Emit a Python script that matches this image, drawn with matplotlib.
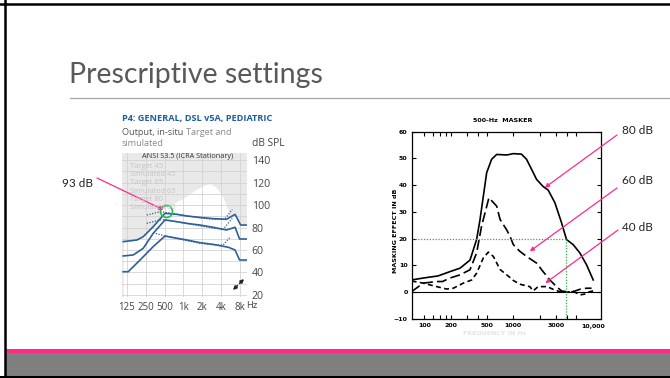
import numpy as np
import matplotlib
matplotlib.use('Agg')
import matplotlib.pyplot as plt
from matplotlib.patches import Rectangle
from matplotlib.lines import Line2D
from matplotlib.ticker import NullFormatter, FixedLocator

W, H = 670, 378
pink = '#ff2a8a'
blue = '#2f5f98'

# ---- left chart (fitting software, output in dB SPL) ----
top_f = [110, 181, 229, 330, 509, 783, 1135, 1838, 2980, 4850, 6660, 8170, 10200]
top_db = [67.4, 68.9, 71.8, 80.7, 92.6, 91.7, 90.2, 89.0, 87.9, 87.3, 91.7, 82.2, 82.2]
mid_f = [110, 159, 229, 330, 509, 783, 1135, 1838, 2980, 4850, 6660, 7850, 10200]
mid_db = [54.7, 55.6, 61.5, 74.8, 86.7, 85.2, 83.7, 82.2, 80.2, 77.8, 80.2, 69.8, 69.8]
low_f = [110, 132, 204, 330, 509, 1135, 1838, 2980, 5220, 6660, 7850, 10200]
low_db = [40.7, 40.7, 51.1, 63.0, 72.4, 68.9, 66.5, 65.0, 62.4, 60.0, 51.1, 51.1]

tgt_top_f = [261, 424, 509, 1135, 1838, 2980, 4550, 6000]
tgt_top_db = [91.1, 94.0, 93.5, 90.5, 88.5, 87.3, 87.3, 96.1]
tgt_mid_f = [261, 424, 509, 1135, 1838, 2980, 4300, 6000]
tgt_mid_db = [83.7, 86.7, 87.0, 83.5, 81.5, 79.5, 78.4, 88.1]
tgt_low_f = [330, 509, 1135, 1838, 2980, 4300, 5640]
tgt_low_db = [75.4, 72.5, 68.3, 66.0, 64.6, 64.4, 71.8]

blob_f = [430, 600, 1000, 1600, 2200, 2700, 3300, 4200, 5200]
blob_db = [96, 100, 106, 114, 118, 119, 116, 108, 95]

left_xticks = [125, 250, 500, 1000, 2000, 4000, 8000]
left_xlabels = ['125', '250', '500', '1k', '2k', '4k', '8k']
left_yticks = [20, 40, 60, 80, 100, 120, 140]
legend_items = ['Target 45', 'Simulated 45', 'Target 65', 'Simulated 65', 'Target 80', 'Simulated 80']

# ---- right chart (500-Hz masker) ----
m80_f = [72, 97, 143, 194, 252, 326, 387, 422, 502, 571, 650, 846, 1000, 1236, 1407, 1601,
         1823, 2163, 2461, 2928, 3479, 3958, 4703, 5588, 6639, 7894]
m80_db = [4.6, 5.3, 6.1, 7.7, 9.0, 12.0, 19.7, 27.0, 44.7, 49.7, 51.5, 51.3, 51.8, 51.6, 49.7, 46.0,
          42.2, 39.5, 38.2, 33.5, 26.0, 19.7, 17.8, 14.7, 10.3, 4.6]
m60_f = [72, 97, 138, 160, 194, 252, 326, 387, 440, 532, 650, 710, 839, 918, 1000, 1183, 1407,
         1823, 2163, 2571, 3059, 3477, 3958, 4703, 5588, 6639, 7567]
m60_db = [0.2, 3.4, 4.0, 4.0, 5.3, 6.5, 8.4, 14.7, 24.7, 35.3, 32.2, 27.2, 23.4, 20.9, 17.8, 15.3, 13.4,
          10.9, 7.7, 4.6, 2.1, 0.5, 0.2, 0.2, 1.1, 1.5, 1.5]
m40_f = [72, 97, 138, 178, 212, 274, 341, 387, 460, 524, 596, 710, 918, 1000, 1183, 1532, 1670,
         1900, 2400, 2800, 3330, 3958, 4700, 5588, 6300, 7200, 7900]
m40_db = [4.2, 3.4, 2.1, 1.2, 1.5, 3.4, 4.6, 7.1, 12.8, 15.0, 13.4, 8.5, 5.5, 4.4, 3.0, 2.1, 0.5,
          2.1, 2.1, 1.1, 0.2, 0.0, 0.4, -1.0, -0.7, 0.2, 0.5]
right_xticks = [100, 200, 500, 1000, 3000]
right_minor = [125, 150, 175, 300, 400, 2000, 4000, 5000]
right_yticks = [-10, 0, 10, 20, 30, 40, 50, 60]
cross_f, cross_db = 3900, 20


fig = plt.figure(figsize=(W / 100, H / 100), dpi=100)
fig.patch.set_facecolor('white')


def box(x0, y0, x1, y1):
    return fig.add_axes([x0 / W, 1 - y1 / H, (x1 - x0) / W, (y1 - y0) / H])


def ftxt(x, y, s, **kw):
    kw.setdefault('va', 'center')
    return fig.text(x / W, 1 - y / H, s, **kw)


# slide frame
fig.add_artist(Rectangle((5 / W, 1 - 353.3 / H), 1, 4 / H, transform=fig.transFigure, color=pink, lw=0))
fig.add_artist(Rectangle((5 / W, 1 - 375.5 / H), 1, 22.2 / H, transform=fig.transFigure, color='#7f7f7f', lw=0))
fig.add_artist(Line2D([0, 1], [1 - 3.8 / H] * 2, transform=fig.transFigure, color='black', lw=1.8))
fig.add_artist(Line2D([5.3 / W] * 2, [0, 1], transform=fig.transFigure, color='black', lw=1.8))
fig.add_artist(Line2D([0, 1], [1 - 376.8 / H] * 2, transform=fig.transFigure, color='black', lw=2.2))

ftxt(69, 75, 'Prescriptive settings', fontfamily='Lato', fontsize=20.5, color='#595959')
fig.add_artist(Line2D([70 / W, 1], [1 - 98 / H] * 2, transform=fig.transFigure, color='#a6a6a6', lw=0.9))

# ---------- left chart ----------
ftxt(121.5, 119, 'P4: GENERAL, DSL v5A, PEDIATRIC', fontfamily='Open Sans', fontweight='bold',
     fontsize=6.6, color='#1f5d9c')
t_out = ftxt(121.5, 132.5, 'Output, in-situ', fontfamily='Open Sans', fontsize=6.6, color='#555555')
ftxt(121.5, 143.5, 'simulated', fontfamily='Open Sans', fontsize=6.6, color='#8a8a8a')
ftxt(251.5, 143.5, 'dB SPL', fontfamily='Open Sans', fontsize=7.4, color='#444444')
rend = fig.canvas.get_renderer()
ext = t_out.get_window_extent(rend)
ftxt(ext.x1 + 3, 132.5, 'Target and', fontfamily='Open Sans', fontsize=6.6, color='#8a8a8a')

axL = box(121.7, 153.3, 246.7, 297)
axL.set_xscale('log', base=2)
axL.set_xlim(104, 10200)
axL.set_ylim(18.2, 146)
axL.set_facecolor('#e9e9e9')
axL.fill_between(top_f, 0, top_db, color='white', lw=0, zorder=0.5)
axL.fill_between(blob_f, 0, blob_db, color='white', lw=0, zorder=0.5)
for f in left_xticks:
    axL.axvline(f, color='#d3d3d3', lw=0.6, zorder=0.8)
for y in range(20, 150, 10):
    axL.axhline(y, color='#d3d3d3', lw=0.6, zorder=0.8)

axL.plot(top_f, top_db, color=blue, lw=1.2, zorder=3)
axL.plot(mid_f, mid_db, color=blue, lw=1.2, zorder=3)
axL.plot(low_f, low_db, color=blue, lw=1.2, zorder=3)
for tf, td in [(tgt_top_f, tgt_top_db), (tgt_mid_f, tgt_mid_db), (tgt_low_f, tgt_low_db)]:
    axL.plot(tf, td, color=blue, lw=0.9, ls=(0, (1, 1.2)), zorder=2.5)

axL.plot(528, 94.7, 'o', mfc='none', mec='#1fbf4f', mew=1.2, ms=8.6, zorder=4)

axL.set_xticks(left_xticks)
axL.set_xticklabels(left_xlabels)
axL.xaxis.set_minor_locator(FixedLocator([]))
axL.yaxis.tick_right()
axL.set_yticks(left_yticks)
axL.tick_params(length=0, labelsize=7.0, colors='#444444', pad=3.5)
axL.tick_params(axis='y', labelsize=7.6, pad=3.5)
for lab in axL.get_xticklabels() + axL.get_yticklabels():
    lab.set_fontfamily('Open Sans')
for s in axL.spines.values():
    s.set_visible(False)
ftxt(246.5, 305.5, 'Hz', fontfamily='Open Sans', fontsize=6.8, color='#444444')

axL.text(0.53, 0.976, 'ANSI S3.5 (ICRA Stationary)', transform=axL.transAxes, ha='center', va='center',
         fontfamily='Open Sans', fontsize=5.2, color='#333333', zorder=5)
for i, s in enumerate(legend_items):
    ftxt(130, 166.5 + i * 8.2, s, fontfamily='Open Sans', fontsize=5.4, color='#c4c4c4', zorder=5)

# expand icon
for a, b in [((237.5, 285.5), (233, 290)), ((239.5, 283.5), (244, 279))]:
    axL.annotate('', xy=(b[0], H - b[1]), xycoords='figure pixels', xytext=(a[0], H - a[1]),
                 textcoords='figure pixels',
                 arrowprops=dict(arrowstyle='-|>', color='#222222', lw=1.1, mutation_scale=5,
                                 shrinkA=0, shrinkB=0))

# 93 dB pointer
ftxt(62, 183, '93 dB', fontfamily='Lato', fontsize=8.5, color='#222222')
axL.annotate('', xy=(528, 94.7), xytext=(97, H - 178), textcoords='figure pixels',
             arrowprops=dict(arrowstyle='-|>', color=pink, lw=0.9, mutation_scale=6,
                             shrinkA=0, shrinkB=2), annotation_clip=False, zorder=6)

# ---------- right chart ----------
axR = box(411.7, 131.7, 601, 319)
axR.set_xscale('log')
axR.set_xlim(72.2, 9660)
axR.set_ylim(-10, 60)
axR.plot(m80_f, m80_db, color='black', lw=1.2)
axR.plot(m60_f, m60_db, color='black', lw=1.2, dashes=(6, 2.5))
axR.plot(m40_f, m40_db, color='black', lw=1.2, dashes=(3, 2))
axR.axhline(0, color='black', lw=0.8)
green = '#22b24c'
axR.plot([72.2, cross_f], [cross_db, cross_db], color=green, lw=0.9, ls=(0, (1, 1.3)))
axR.plot([cross_f, cross_f], [cross_db, -10], color=green, lw=0.9, ls=(0, (1, 1.3)))

axR.set_xticks(right_xticks)
axR.set_xticklabels([str(v) for v in right_xticks])
axR.set_xticks(right_minor, minor=True)
axR.xaxis.set_minor_formatter(NullFormatter())
axR.set_yticks(right_yticks)
axR.tick_params(which='both', direction='in', top=True, right=True, length=3, width=0.8,
                labelsize=4.5, pad=3)
for lab in axR.get_xticklabels() + axR.get_yticklabels():
    lab.set_fontweight('bold')
for s in axR.spines.values():
    s.set_linewidth(0.9)
axR.set_ylabel('MASKING EFFECT IN dB', fontsize=4.6, fontweight='bold')
axR.yaxis.set_label_coords(-0.075, 0.47)
ftxt(593, 326.8, '10,000', ha='center', fontsize=4.5, fontweight='bold')
ftxt(503, 120, '500-Hz  MASKER', ha='center', fontsize=4.6, fontweight='bold')
ftxt(495, 333, 'FREQUENCY IN Hz', ha='center', fontsize=4.5, fontweight='bold', color='#e4e4e4')

for lbl, tip, tail, ty in [('80 dB', (2260, 39.1), (617, 135), 130),
                           ('60 dB', (1532, 15.3), (617, 188), 180),
                           ('40 dB', (2290, 3.4), (618, 230), 227)]:
    axR.annotate('', xy=tip, xytext=(tail[0], H - tail[1]), textcoords='figure pixels',
                 arrowprops=dict(arrowstyle='-|>', color=pink, lw=0.9, mutation_scale=6,
                                 shrinkA=0, shrinkB=0), annotation_clip=False)
    ftxt(621.5, ty, lbl, fontfamily='Lato', fontsize=8.5, color='#222222')

fig.savefig('out.png', dpi=100)
